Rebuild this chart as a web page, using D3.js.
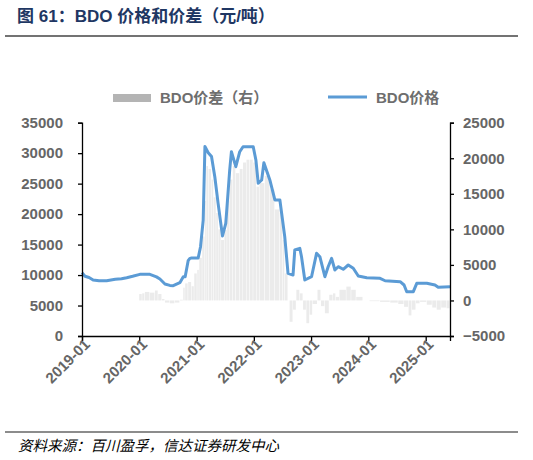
<!DOCTYPE html>
<html>
<head>
<meta charset="utf-8">
<script src="https://cdn.jsdelivr.net/npm/d3@7"></script>
<style>
  body { margin: 0; background: #fff; }
  svg { display: block; }
  .tick text { font-family: "Liberation Sans", Arial, sans-serif; font-weight: bold; font-size: 15px; fill: #666; }
</style>
</head>
<body>
<svg id="chart" width="533" height="460"></svg>
<script>
// BDO价格（左轴，元/吨）
const priceDates = [
  "2019-01-01","2019-01-20","2019-02-15","2019-03-13","2019-04-20","2019-06-07","2019-08-01","2019-09-10",
  "2019-10-13","2019-11-20","2020-01-05","2020-03-09","2020-04-20","2020-05-12","2020-06-13","2020-07-14",
  "2020-08-05","2020-09-16","2020-10-08","2020-10-20","2020-11-08","2020-11-19","2020-11-30","2021-01-11",
  "2021-01-26","2021-02-12","2021-02-23","2021-03-16","2021-04-06","2021-04-27","2021-05-18","2021-06-15",
  "2021-07-06","2021-07-31","2021-08-11","2021-09-08","2021-10-03","2021-10-24","2021-12-28","2022-01-14",
  "2022-01-29","2022-02-20","2022-03-06","2022-04-13","2022-05-15","2022-06-16","2022-07-17","2022-08-07",
  "2022-09-08","2022-09-19","2022-10-21","2022-11-01","2022-11-22","2023-01-04","2023-02-05","2023-02-26",
  "2023-03-30","2023-04-20","2023-05-12","2023-06-02","2023-06-23","2023-07-25","2023-08-26","2023-09-27",
  "2023-10-29","2023-12-22","2024-03-16","2024-04-17","2024-07-22","2024-08-16","2024-09-02","2024-10-14",
  "2024-11-05","2025-01-08","2025-03-01","2025-03-22","2025-06-05"
];
const priceValues = [
  10400, 9800, 9600, 9190, 9080, 9075, 9300, 9400,
  9570, 9800, 10120, 10120, 9700, 9350, 8530, 8300,
  8260, 8750, 9730, 9730, 12360, 12740, 12800, 12800,
  14650, 19030, 31100, 30080, 29450, 26140, 21770, 16410,
  18490, 27240, 30240, 27780, 30240, 31060, 31060, 28880,
  25060, 25600, 28440, 25600, 22320, 22320, 16300, 10290,
  10010, 14110, 14390, 13010, 9190, 9730, 13570, 13010,
  9730, 11370, 12740, 10830, 11370, 10950, 11650, 11110,
  9850, 9570, 9470, 9070, 8910, 8370, 7270, 7270,
  8640, 8640, 8370, 7990, 8090
];

// BDO价差（右轴，元/吨）
const spreadDates = [
  "2020-01-01","2020-01-20","2020-02-06","2020-03-09","2020-04-10","2020-05-01","2020-05-25","2020-06-13",
  "2020-07-14","2020-08-15","2020-09-16","2020-10-08","2020-10-20","2020-11-08","2020-11-30","2020-12-17",
  "2021-01-05","2021-01-18","2021-02-06","2021-02-23","2021-03-04","2021-03-18","2021-04-06","2021-04-20",
  "2021-05-06","2021-05-20","2021-06-06","2021-06-28","2021-07-15","2021-07-31","2021-08-20","2021-09-08",
  "2021-10-03","2021-10-24","2021-11-15","2021-12-06","2021-12-28","2022-01-18","2022-02-06","2022-03-12",
  "2022-04-13","2022-05-15","2022-06-16","2022-07-04","2022-07-17","2022-08-07","2022-08-17","2022-09-08",
  "2022-09-29","2022-10-21","2022-11-11","2022-12-02","2022-12-23","2023-01-11","2023-02-11","2023-03-05",
  "2023-03-30","2023-04-27","2023-05-21","2023-06-08","2023-07-01","2023-08-14","2023-09-14","2023-10-16",
  "2023-11-28","2024-01-09","2024-03-16","2024-05-20","2024-07-10","2024-08-16","2024-09-14","2024-10-05",
  "2024-10-31","2024-11-26","2025-01-08","2025-02-12","2025-03-12","2025-04-10","2025-05-14"
];
const spreadValues = [
  900, 1000, 1200, 1100, 1400, 900, 200, -300,
  -400, -300, 100, 1800, 2400, 2600, 2000, 3800,
  4300, 6000, 9000, 14000, 18900, 18500, 17000, 14500,
  12300, 10000, 8500, 9900, 14000, 17000, 18900, 17900,
  18500, 19400, 19800, 19800, 19400, 16000, 16500, 17500,
  15600, 12800, 12300, 8500, 3800, 0, -3000, -1300,
  1500, 1000, -1300, -3200, -2000, -500, 1500, -800,
  -1800, 800, 1000, 500, 1500, 1950, 1500, 500,
  0, -100, -200, -300, -500, -900, -2100, -1300,
  -400, -200, -600, -1000, -1300, -1000, -1100
];

const leftTicks = [0, 5000, 10000, 15000, 20000, 25000, 30000, 35000];
const rightTicks = [-5000, 0, 5000, 10000, 15000, 20000, 25000];
const xTickYears = ["2019-01","2020-01","2021-01","2022-01","2023-01","2024-01","2025-01"];

const parse = d3.timeParse("%Y-%m-%d");
const price = priceDates.map((d, i) => ({ date: parse(d), value: priceValues[i] }));
const spread = spreadDates.map((d, i) => ({ date: parse(d), value: spreadValues[i] }));

const svg = d3.select("#chart");
const cjk = '"Liberation Sans", "Noto Sans CJK SC", sans-serif';

// 标题和分隔线
svg.append("text")
  .attr("x", 17).attr("y", 22)
  .attr("font-family", cjk).attr("font-weight", "bold").attr("font-size", 17)
  .attr("fill", "#1f3763")
  .text("图 61：BDO 价格和价差（元/吨）");
svg.append("line").attr("x1", 5).attr("x2", 518).attr("y1", 36).attr("y2", 36)
  .attr("stroke", "#444").attr("stroke-width", 1.5);

// 坐标区域
const plotL = 82, plotR = 450, plotT = 122.7, plotB = 336;
const x = d3.scaleTime()
  .domain([parse("2019-01-01"), parse("2025-06-05")])
  .range([plotL, plotR]);
const yL = d3.scaleLinear().domain([0, 35000]).range([plotB, plotT]);
const yR = d3.scaleLinear().domain([-5000, 25000]).range([plotB, plotT]);

// 价差柱
const endDate = x.domain()[1];
svg.append("g")
  .selectAll("rect")
  .data(spread)
  .join("rect")
    .attr("x", d => x(d.date))
    .attr("width", (d, i) => {
      const next = i < spread.length - 1 ? spread[i + 1].date : endDate;
      return Math.max(0.8, x(next) - x(d.date) - 0.5);
    })
    .attr("y", d => Math.min(yR(d.value), yR(0)))
    .attr("height", d => Math.abs(yR(d.value) - yR(0)))
    .attr("fill", "#ebebeb");

// 价格线
svg.append("path")
  .datum(price)
  .attr("fill", "none")
  .attr("stroke", "#5b9bd5")
  .attr("stroke-width", 3)
  .attr("stroke-linejoin", "round")
  .attr("d", d3.line().x(d => x(d.date)).y(d => yL(d.value)));

// 坐标轴
const gL = svg.append("g").attr("transform", `translate(${plotL},0)`)
  .call(d3.axisLeft(yL).tickValues(leftTicks).tickSize(4).tickPadding(15).tickFormat(d3.format("d")));
const gR = svg.append("g").attr("transform", `translate(${plotR},0)`)
  .call(d3.axisRight(yR).tickValues(rightTicks).tickSize(4).tickPadding(9).tickFormat(d3.format("d")));
const gX = svg.append("g").attr("transform", `translate(0,${plotB})`)
  .call(d3.axisBottom(x).tickValues(xTickYears.map(s => parse(s + "-01"))).tickSize(5)
    .tickFormat(d3.timeFormat("%Y-%m")));
gX.selectAll(".tick text")
  .attr("text-anchor", "end")
  .attr("transform", "translate(3,4) rotate(-45)")
  .attr("dx", 0).attr("dy", "0.5em").attr("y", 0);
[gL, gR, gX].forEach(g => {
  g.select(".domain").attr("stroke", "#000").attr("stroke-width", 1.3);
  g.selectAll(".tick line").attr("stroke", "#000").attr("stroke-width", 1.3);
});

// 图例
const lg = svg.append("g");
lg.append("rect").attr("x", 113).attr("y", 94).attr("width", 38).attr("height", 8).attr("fill", "#b4b4b4");
lg.append("text").attr("x", 160).attr("y", 103)
  .attr("font-family", cjk).attr("font-weight", "bold").attr("font-size", 15).attr("fill", "#6e6e6e")
  .text("BDO价差（右）");
lg.append("line").attr("x1", 328).attr("x2", 367).attr("y1", 97).attr("y2", 97)
  .attr("stroke", "#5b9bd5").attr("stroke-width", 3);
lg.append("text").attr("x", 376).attr("y", 103)
  .attr("font-family", cjk).attr("font-weight", "bold").attr("font-size", 15).attr("fill", "#6e6e6e")
  .text("BDO价格");

// 资料来源
svg.append("line").attr("x1", 5).attr("x2", 518).attr("y1", 432).attr("y2", 432)
  .attr("stroke", "#666").attr("stroke-width", 1.5);
svg.append("text").attr("x", 18).attr("y", 451)
  .attr("font-family", '"Noto Sans CJK SC", sans-serif').attr("font-style", "italic")
  .attr("font-size", 14.5).attr("fill", "#000")
  .text("资料来源：百川盈孚，信达证券研发中心");
</script>
</body>
</html>
